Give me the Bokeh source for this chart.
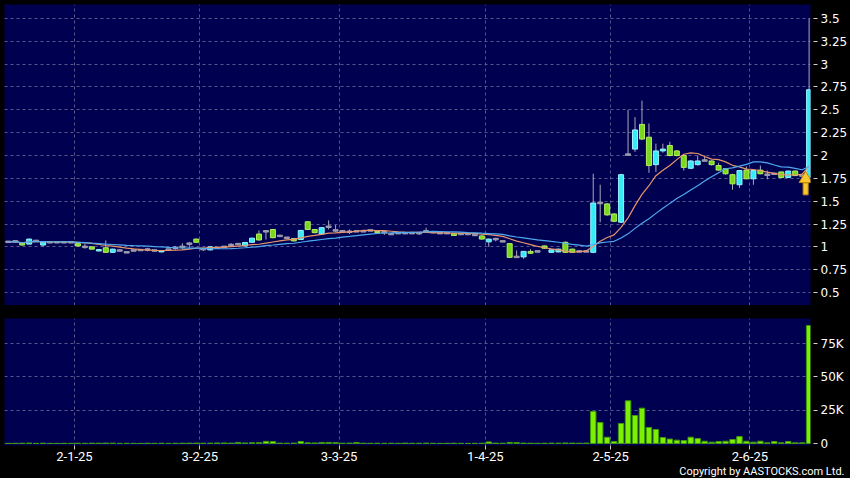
import pandas as pd
from bokeh.plotting import figure
from bokeh.layouts import column
from bokeh.models import ColumnDataSource, FixedTicker, Title, Range1d, Grid
from bokeh.embed import file_html
from bokeh.resources import INLINE

# ---------------- data ----------------
opens = [1.055, 1.06, 1.04, 1.03, 1.065, 1.02, 1.05, 1.05, 1.05, 1.05,
         1.035, 1.0, 1.0, 0.955, 0.99, 0.94, 0.96, 0.94, 0.96, 0.965,
         0.97, 0.96, 0.945, 0.97, 0.99, 1.0, 1.035, 1.085, 0.975, 0.967,
         0.99, 1.0, 1.02, 1.03, 1.01, 1.05, 1.14, 1.17, 1.19, 1.12,
         1.10, 1.09, 1.08, 1.275, 1.19, 1.14, 1.22, 1.18, 1.17, 1.165,
         1.17, 1.17, 1.18, 1.17, 1.16, 1.14, 1.15, 1.15, 1.15, 1.15,
         1.17, 1.16, 1.15, 1.15, 1.145, 1.14, 1.14, 1.13, 1.12, 1.055,
         1.085, 1.06, 1.035, 0.89, 0.89, 0.95, 0.95, 1.01, 0.94, 0.945,
         1.05, 0.975, 0.95, 0.95, 0.94, 1.48, 1.47, 1.36, 1.27, 2.01,
         2.07, 2.34, 2.20, 1.90, 2.05, 2.11, 2.05, 2.00, 1.86, 1.90,
         1.945, 1.94, 1.89, 1.855, 1.79, 1.68, 1.84, 1.745, 1.84, 1.79,
         1.80, 1.82, 1.76, 1.83, 1.78, 1.76]
closes = [1.055, 1.06, 1.02, 1.085, 1.065, 1.055, 1.05, 1.05, 1.05, 1.05,
          1.01, 1.0, 0.975, 0.97, 0.94, 0.975, 0.96, 0.94, 0.96, 0.965,
          0.97, 0.96, 0.96, 0.97, 0.99, 1.0, 1.035, 1.05, 0.975, 1.0,
          0.99, 1.0, 1.02, 1.03, 1.048, 1.095, 1.075, 1.17, 1.10, 1.12,
          1.10, 1.065, 1.18, 1.19, 1.155, 1.21, 1.22, 1.18, 1.17, 1.165,
          1.17, 1.17, 1.18, 1.155, 1.16, 1.14, 1.15, 1.15, 1.15, 1.15,
          1.17, 1.16, 1.15, 1.15, 1.125, 1.14, 1.14, 1.13, 1.085, 1.085,
          1.085, 1.06, 0.885, 0.89, 0.95, 0.93, 0.95, 0.985, 0.967, 0.975,
          0.94, 0.94, 0.95, 0.95, 1.48, 1.48, 1.35, 1.28, 1.79, 2.01,
          2.28, 2.18, 1.89, 2.05, 2.07, 2.00, 2.00, 1.87, 1.94, 1.94,
          1.945, 1.90, 1.84, 1.80, 1.69, 1.835, 1.745, 1.835, 1.80, 1.79,
          1.80, 1.76, 1.83, 1.78, 1.78, 2.72]
highs = [1.06, 1.065, 1.045, 1.09, 1.07, 1.06, 1.055, 1.055, 1.055, 1.055,
         1.04, 1.03, 1.0, 0.975, 1.07, 0.98, 0.97, 0.945, 0.965, 0.97,
         0.99, 0.965, 0.965, 0.975, 1.01, 1.04, 1.05, 1.09, 0.99, 1.005,
         0.995, 1.005, 1.04, 1.035, 1.05, 1.10, 1.18, 1.18, 1.195, 1.13,
         1.105, 1.095, 1.185, 1.28, 1.195, 1.215, 1.29, 1.24, 1.175, 1.19,
         1.175, 1.175, 1.185, 1.175, 1.17, 1.145, 1.155, 1.155, 1.155, 1.16,
         1.21, 1.165, 1.155, 1.155, 1.15, 1.145, 1.145, 1.135, 1.125, 1.09,
         1.10, 1.065, 1.04, 0.96, 0.955, 0.975, 0.955, 1.015, 0.97, 0.98,
         1.06, 0.98, 0.955, 0.955, 1.80, 1.68, 1.48, 1.37, 1.80, 2.50,
         2.42, 2.60, 2.35, 2.13, 2.13, 2.15, 2.06, 2.01, 1.95, 2.00,
         2.00, 1.945, 1.92, 1.86, 1.80, 1.84, 1.88, 1.84, 1.89, 1.835,
         1.81, 1.825, 1.835, 1.835, 1.785, 3.50]
lows = [1.05, 1.05, 1.015, 1.03, 1.055, 1.0, 1.045, 1.045, 1.04, 1.045,
        1.0, 0.98, 0.97, 0.95, 0.935, 0.935, 0.955, 0.935, 0.955, 0.96,
        0.95, 0.955, 0.94, 0.965, 0.97, 0.97, 0.98, 1.045, 0.955, 0.96,
        0.985, 0.995, 1.0, 1.02, 1.005, 1.045, 1.07, 1.08, 1.095, 1.11,
        1.095, 1.06, 1.075, 1.185, 1.15, 1.135, 1.19, 1.16, 1.165, 1.14,
        1.165, 1.165, 1.175, 1.15, 1.13, 1.135, 1.145, 1.145, 1.145, 1.13,
        1.165, 1.155, 1.145, 1.145, 1.12, 1.135, 1.135, 1.12, 1.08, 1.0,
        1.06, 1.055, 0.88, 0.885, 0.87, 0.925, 0.945, 0.98, 0.935, 0.94,
        0.935, 0.935, 0.945, 0.945, 0.93, 1.27, 1.34, 1.27, 1.26, 2.00,
        2.04, 2.17, 1.81, 1.82, 2.03, 1.99, 1.99, 1.835, 1.85, 1.89,
        1.94, 1.89, 1.835, 1.79, 1.625, 1.645, 1.74, 1.68, 1.795, 1.74,
        1.79, 1.755, 1.755, 1.775, 1.775, 1.76]
volumes = [100, 150, 200, 300, 100, 250, 100, 100, 150, 100,
           200, 150, 250, 200, 300, 250, 100, 150, 100, 100,
           200, 100, 200, 100, 150, 200, 250, 300, 200, 250,
           400, 400, 300, 800, 400, 500, 600, 1600, 1500, 300,
           200, 300, 1500, 500, 400, 800, 800, 700, 200, 300,
           700, 200, 150, 200, 150, 200, 150, 300, 150, 200,
           300, 150, 100, 150, 200, 150, 100, 150, 200, 1200,
           300, 200, 800, 700, 300, 200, 150, 200, 300, 250,
           400, 300, 200, 300, 24000, 15700, 4700, 1500, 15000, 32000,
           21000, 26500, 12000, 10500, 4500, 3300, 2500, 2200, 4700, 3700,
           1700, 1000, 1500, 1700, 3000, 5200, 1700, 1000, 1700, 500,
           1500, 500, 1500, 500, 500, 88500]

date_tick_pos = [9.5, 27.5, 47.5, 68.5, 86.5, 106.5]
date_tick_labels = ["2-1-25", "3-2-25", "3-3-25", "1-4-25", "2-5-25", "2-6-25"]
price_ticks = [0.5, 0.75, 1.0, 1.25, 1.5, 1.75, 2.0, 2.25, 2.5, 2.75, 3.0, 3.25, 3.5]
price_tick_labels = ["0.5", "0.75", "1", "1.25", "1.5", "1.75", "2", "2.25",
                     "2.5", "2.75", "3", "3.25", "3.5"]
vol_ticks = [0, 25000, 50000, 75000]
vol_tick_labels = ["0", "25K", "50K", "75K"]
copyright_text = "Copyright by AASTOCKS.com Ltd."
ma_short, ma_long = 10, 20

# ---------------- derived ----------------
n = len(closes)
idx = list(range(n))
df = pd.DataFrame(dict(x=idx, o=opens, h=highs, l=lows, c=closes, v=volumes))
df["ma1"] = df["c"].rolling(ma_short, min_periods=1).mean()
df["ma2"] = df["c"].rolling(ma_long, min_periods=1).mean()
df["top"] = df[["o", "c"]].max(axis=1)
df["bot"] = df[["o", "c"]].min(axis=1)
doji = df["o"] == df["c"]
df.loc[doji, "top"] = df.loc[doji, "c"] + 0.008
df.loc[doji, "bot"] = df.loc[doji, "c"] - 0.008

up = ColumnDataSource(df[df["c"] > df["o"]])
dn = ColumnDataSource(df[df["c"] < df["o"]])
fl = ColumnDataSource(df[doji])
src = ColumnDataSource(df)

BG = "#000050"
FONT = "DejaVu Sans"
NARROW = "Roboto"
GRID = "#56568a"

xr = Range1d(-0.544, 115.2)

p1 = figure(width=850, height=305, x_range=xr, y_range=Range1d(0.358, 3.653),
            x_axis_location=None, y_axis_location="right",
            output_backend="svg", toolbar_location=None,
            min_border_left=4, min_border_right=38, min_border_top=4, min_border_bottom=0,
            background_fill_color=BG, border_fill_color="black", outline_line_color=None)
p2 = figure(width=850, height=159, x_range=xr, y_range=Range1d(-1500, 93750),
            y_axis_location="right",
            output_backend="svg", toolbar_location=None,
            min_border_left=4, min_border_right=38, min_border_top=13, min_border_bottom=19,
            background_fill_color=BG, border_fill_color="black", outline_line_color=None)
p3 = figure(width=850, height=14, x_range=xr, x_axis_location=None, y_axis_location=None,
            output_backend="svg", toolbar_location=None,
            min_border_left=4, min_border_right=38, min_border_top=0, min_border_bottom=0,
            background_fill_color="black", border_fill_color="black",
            outline_line_color=None)
p3.xgrid.visible = False
p3.ygrid.visible = False

for p in (p1, p2):
    p.xgrid.visible = False
    p.ygrid.visible = False
    p.add_layout(Grid(dimension=0, ticker=FixedTicker(ticks=date_tick_pos),
                      grid_line_color=GRID, grid_line_dash="3 3", grid_line_width=1))

p1.add_layout(Grid(dimension=1, ticker=FixedTicker(ticks=price_ticks),
                   grid_line_color=GRID, grid_line_dash="3 3", grid_line_width=1))
p2.add_layout(Grid(dimension=1, ticker=FixedTicker(ticks=vol_ticks),
                   grid_line_color=GRID, grid_line_dash="3 3", grid_line_width=1))

# candles
p1.segment(x0="x", y0="l", x1="x", y1="h", source=src, line_color="#a8a8b8", line_width=1)
p1.vbar(x="x", top="top", bottom="bot", width=0.72, source=up,
        fill_color="#36eaf6", line_color="#9af4ff", line_width=1)
p1.vbar(x="x", top="top", bottom="bot", width=0.72, source=dn,
        fill_color="#7ad81c", line_color="#b4f060", line_width=1)
p1.vbar(x="x", top="top", bottom="bot", width=0.72, source=fl,
        fill_color="#9090a0", line_color="#a0a0b0", line_width=1)

# moving averages
p1.line(x="x", y="ma1", source=src, line_color="#e8946a", line_width=1.2)
p1.line(x="x", y="ma2", source=src, line_color="#4eaaf0", line_width=1.2)

# signal arrow at the last candle
ax = idx[-1] - 0.5
p1.rect(x=[ax], y=[opens[-1] - 0.125], width=5, height=12, width_units="screen",
        height_units="screen", fill_color="#f8c830", line_color="#c88a00")
p1.scatter(x=[ax], y=[opens[-1] - 0.015], marker="triangle", size=13,
           fill_color="#f8c830", line_color="#c88a00")

# volume
p2.vbar(x="x", top="v", bottom=0, width=0.78, source=src,
        fill_color="#7cf000", line_color="#3e9a08", line_width=1)

for ax_, ticks, labels in ((p1.yaxis[0], price_ticks, price_tick_labels),
                           (p2.yaxis[0], vol_ticks, vol_tick_labels)):
    ax_.ticker = FixedTicker(ticks=ticks)
    ax_.major_label_overrides = dict(zip(ticks, labels))

xa = p2.xaxis[0]
xa.ticker = FixedTicker(ticks=date_tick_pos)
xa.major_label_overrides = dict(zip(date_tick_pos, date_tick_labels))

for ax_ in (p1.yaxis[0], p2.yaxis[0], xa):
    ax_.axis_line_color = None
    ax_.minor_tick_line_color = None
    ax_.major_tick_line_color = "#d0d0d0"
    ax_.major_tick_in = -3
    ax_.major_tick_out = 7
    ax_.major_label_text_color = "white"
    ax_.major_label_text_font = FONT
    ax_.major_label_text_font_size = "12px"
    ax_.major_label_standoff = 3
xa.major_tick_in = 0
xa.major_tick_out = 4
xa.major_label_standoff = 2
xa.major_label_text_font = NARROW
xa.major_label_text_font_size = "13px"

p3.add_layout(Title(text=copyright_text, align="right", offset=-34,
                    vertical_align="top",
                    text_color="white", text_font=NARROW, text_font_size="11px",
                    text_font_style="normal", standoff=0), "below")

layout = column(p1, p2, p3, spacing=0, background="black")
html = file_html(layout, INLINE).replace(
    "<body>", '<body style="margin:0;background:#000000;overflow:hidden">', 1)
open("out.html", "w").write(html)
